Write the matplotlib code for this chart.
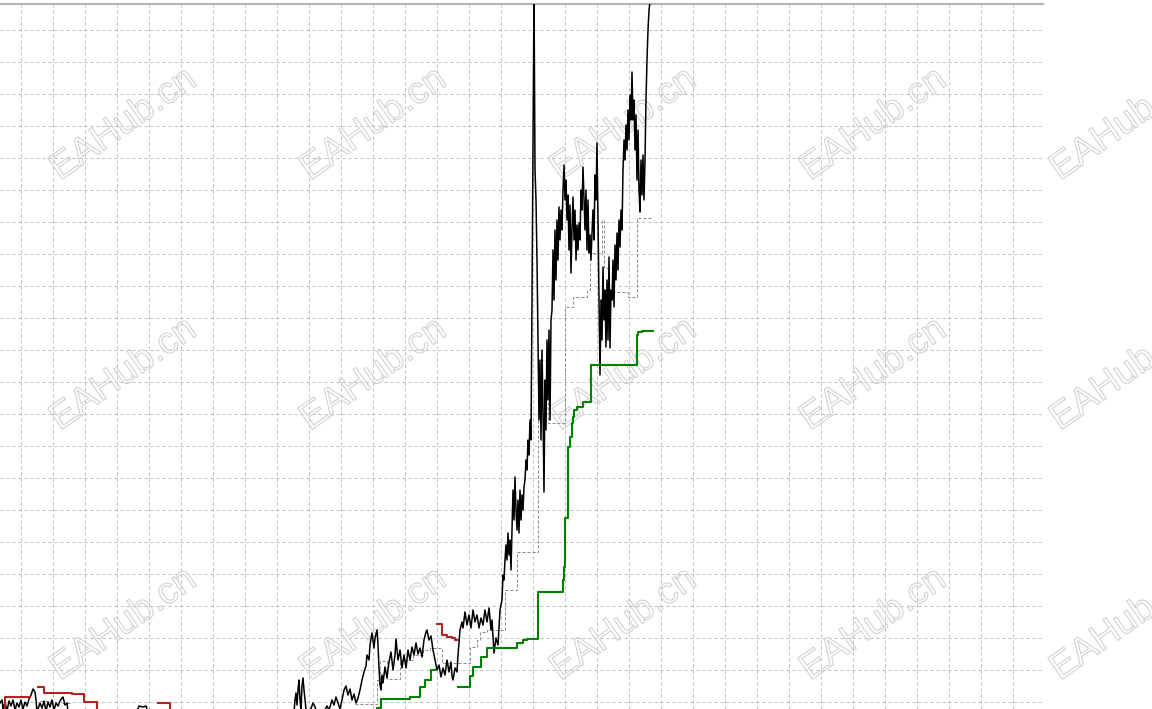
import numpy as np
import matplotlib
matplotlib.use("Agg")
import matplotlib.pyplot as plt
from matplotlib import patheffects as pe

# ---------------- data (bar index, price in points) ----------------
price_bar = [0, 2, 3, 5, 7, 9, 11, 13, 15, 17, 19, 21, 23, 25, 27, 29, 31, 33, 35, 36, 37,
             40, 42, 44, 46, 48, 50, 52, 54, 56, 58, 60, 62, 63, 65, 67, 68, 72, 100,
             137, 139, 143, 146, 148, 170, 210, 250, 285,
             294, 295, 296, 297, 298, 299, 300, 301, 302, 303, 304, 305, 306, 307, 310, 313,
             315, 317, 322, 327, 329, 332, 334, 336, 338, 340, 342, 344, 346, 348, 350, 352,
             354, 356, 358, 360, 362, 364, 366, 367, 369, 370, 372, 374, 375, 377, 378, 379,
             380, 381, 382, 383, 385, 387, 389, 391, 393, 395, 396, 398, 400, 402, 404, 406,
             408, 410, 412, 414, 416, 418, 420, 422, 424, 426, 427, 429, 431, 433, 435, 437,
             439, 441, 443, 445, 447, 449, 451, 452, 453, 455, 457, 458, 460, 462, 463, 465,
             467, 469, 471, 473, 475, 477, 479, 481, 483, 485, 487, 489, 491, 492, 494, 496,
             498, 500, 502, 503, 504, 505, 506, 507, 508, 509, 510, 511, 512, 513, 514, 515,
             516, 517, 518, 519, 520, 521, 522, 523, 524, 525, 526, 527, 528, 529, 530, 531,
             532, 534, 535, 536, 537, 538, 539, 540, 541, 542, 543, 544, 545, 546, 547, 548,
             549, 550, 551, 552, 553, 554, 555, 556, 557, 558, 559, 560, 561, 562, 563, 564,
             565, 566, 567, 568, 569, 570, 571, 572, 573, 574, 575, 576, 577, 578, 579, 580,
             581, 582, 583, 584, 585, 586, 587, 588, 589, 590, 591, 592, 593, 594, 595, 596,
             597, 598, 599, 600, 601, 602, 603, 604, 605, 606, 607, 608, 609, 610, 611, 612,
             613, 614, 615, 616, 617, 618, 619, 620, 621, 622, 623, 624, 625, 626, 627, 628,
             629, 630, 631, 632, 633, 634, 635, 636, 637, 638, 639, 640, 641, 642, 643, 644,
             645, 646, 647, 648, 649, 650, 652]
price_val = [6, 9, 0, 7, -2, 8, 3, 9, -1, 6, 2, 9, 0, 7, 3, 10, 14, 20, 17, 9, -3,
             6, 1, 8, -2, 7, 2, 9, -1, 6, 3, 8, 11, 12, 4, 6, -3, -16, -36,
             -3, 3, 2, 3, -3, -26, -51, -36, -16,
             -3, 9, 16, 4, 19, 29, 9, 0, 23, 31, 19, 9, 0, -3, -2, 6,
             2, -3, -6, 3, -1, 9, 4, 12, 6, 0, 9, 19, 23, 14, 20, 9,
             15, 6, 11, 19, 29, 37, 43, 54, 49, 64, 76, 61, 71, 79, 64, 41,
             24, 19, 34, 26, 42, 31, 47, 57, 39, 54, 70, 49, 59, 41, 54, 41,
             59, 49, 62, 54, 66, 55, 61, 52, 69, 77, 79, 69, 73, 59, 49, 39,
             44, 32, 41, 34, 49, 37, 47, 33, 29, 41, 37, 54, 79, 87, 81, 97,
             84, 94, 81, 99, 87, 94, 81, 91, 84, 99, 87, 101, 79, 89, 56, 71,
             64, 99, 109, 134, 129, 149, 164, 149, 176, 154, 169, 139, 179, 219, 189, 232,
             199, 179, 209, 176, 219, 189, 214, 199, 222, 229, 249, 239, 269, 254, 289, 269,
             409, 719, 539, 509, 449, 369, 289, 349, 269, 359, 299, 217, 329, 279, 369, 309,
             379, 289, 389, 399, 459, 409, 479, 429, 489, 449, 502, 469, 499, 479, 519, 544,
             509, 529, 489, 514, 459, 504, 436, 479, 512, 469, 499, 449, 484, 459, 486, 469,
             519, 499, 542, 509, 479, 519, 459, 509, 456, 474, 449, 476, 499, 469, 534, 509,
             566, 489, 409, 334, 409, 369, 442, 389, 419, 362, 429, 369, 452, 361, 419, 409,
             449, 402, 464, 429, 476, 439, 489, 462, 499, 479, 539, 569, 549, 584, 559, 599,
             569, 614, 589, 637, 589, 609, 559, 594, 529, 579, 519, 497, 549, 514, 554, 509,
             549, 609, 649, 679, 699, 707, 714]

# grey dotted stop line (step levels)
stop2_bar = [40, 53, np.nan, 62, 70, np.nan,
             355, 377, 380, 387, 400, 413, 423, 430, 442, 470, 477, 480, 487, 505, 517,
             538, 548, 565, 573, 587, 590, 602, 604, 612, 628, 637, 653]
stop2_val = [8, 8, np.nan, 6, 6, np.nan,
             5, 29, 48, 30, 49, 54, 59, 61, 46, 62, 69, 77, 79, 119, 157,
             349, 286, 402, 412, 419, 456, 489, 441, 417, 412, 491, 491]

# green trailing stop (step levels)
green_bar = [377, 381, 410, 420, 425, 431, 435, np.nan,
             458, 470, 473, 481, 487, 517, 523, 527, 538, 563, 564, 565, 568, 570, 572,
             573, 574, 577, 583, 591, 637, 638, 642, 653]
green_val = [1, 10, 12, 22, 29, 39, 39, np.nan,
             22, 33, 42, 52, 61, 66, 69, 70, 117, 129, 142, 191, 262, 272, 286,
             292, 299, 302, 307, 344, 374, 377, 378, 378]

# red trailing stop (step levels)
red_bar = [5, 5, 30, np.nan, 38, 44, 72, 84, 97, 97, np.nan, 158, 170, 170, np.nan,
           437, 442, 447, 452, 455, 458]
red_val = [-5, 12, 12, np.nan, 22, 16, 15, 7, 7, -5, np.nan, 6, 6, -5, np.nan,
           85, 74, 72, 71, 69, 69]

grid_x = [20.5 + 32 * k for k in range(32)]
grid_y = [7 + 32 * k for k in range(22)]
watermark = "EAHub.cn"

# ---------------- figure ----------------
W, H = 1152, 709
fig = plt.figure(figsize=(W / 100, H / 100), dpi=100)
fig.patch.set_facecolor("white")
ax = fig.add_axes([0, 0, 1043 / W, 705 / H])
ax.set_xlim(0, 1043)
ax.set_ylim(0, 705)
ax.set_xticks(grid_x)
ax.set_yticks(grid_y)
ax.tick_params(length=0, labelbottom=False, labelleft=False)
ax.set_axisbelow(True)
ax.grid(True, color="#bcbcbc", lw=0.72, linestyle=(0, (3, 3)))
for s in ["left", "right", "bottom"]:
    ax.spines[s].set_visible(False)
ax.spines["top"].set_color("#b4b4b4")
ax.spines["top"].set_linewidth(1.6)

# watermarks (outline text)
for i in range(5):
    for j in range(3):
        px = 60 + 250 * i
        py = 181 + 250 * j
        ax.text(px / W, 1 - py / H, watermark, transform=fig.transFigure,
                fontsize=27, family="Liberation Sans", rotation=35,
                rotation_mode="anchor", ha="left", va="baseline",
                color=(1, 1, 1, 0), zorder=1, clip_on=False,
                path_effects=[pe.Stroke(linewidth=0.8, foreground="#d2d2d2")])

ax.plot(stop2_bar, stop2_val, drawstyle="steps-post", color="#8a8a8a", lw=0.72,
        linestyle=(0, (3, 2)), zorder=2)
ax.plot(price_bar, price_val, color="black", lw=1.1, zorder=3)
ax.plot(green_bar, green_val, drawstyle="steps-post", color="#008000", lw=1.5, zorder=4)
ax.plot(red_bar, red_val, drawstyle="steps-post", color="#b22222", lw=1.5, zorder=4)

fig.savefig("out.png", dpi=100, facecolor="white")
